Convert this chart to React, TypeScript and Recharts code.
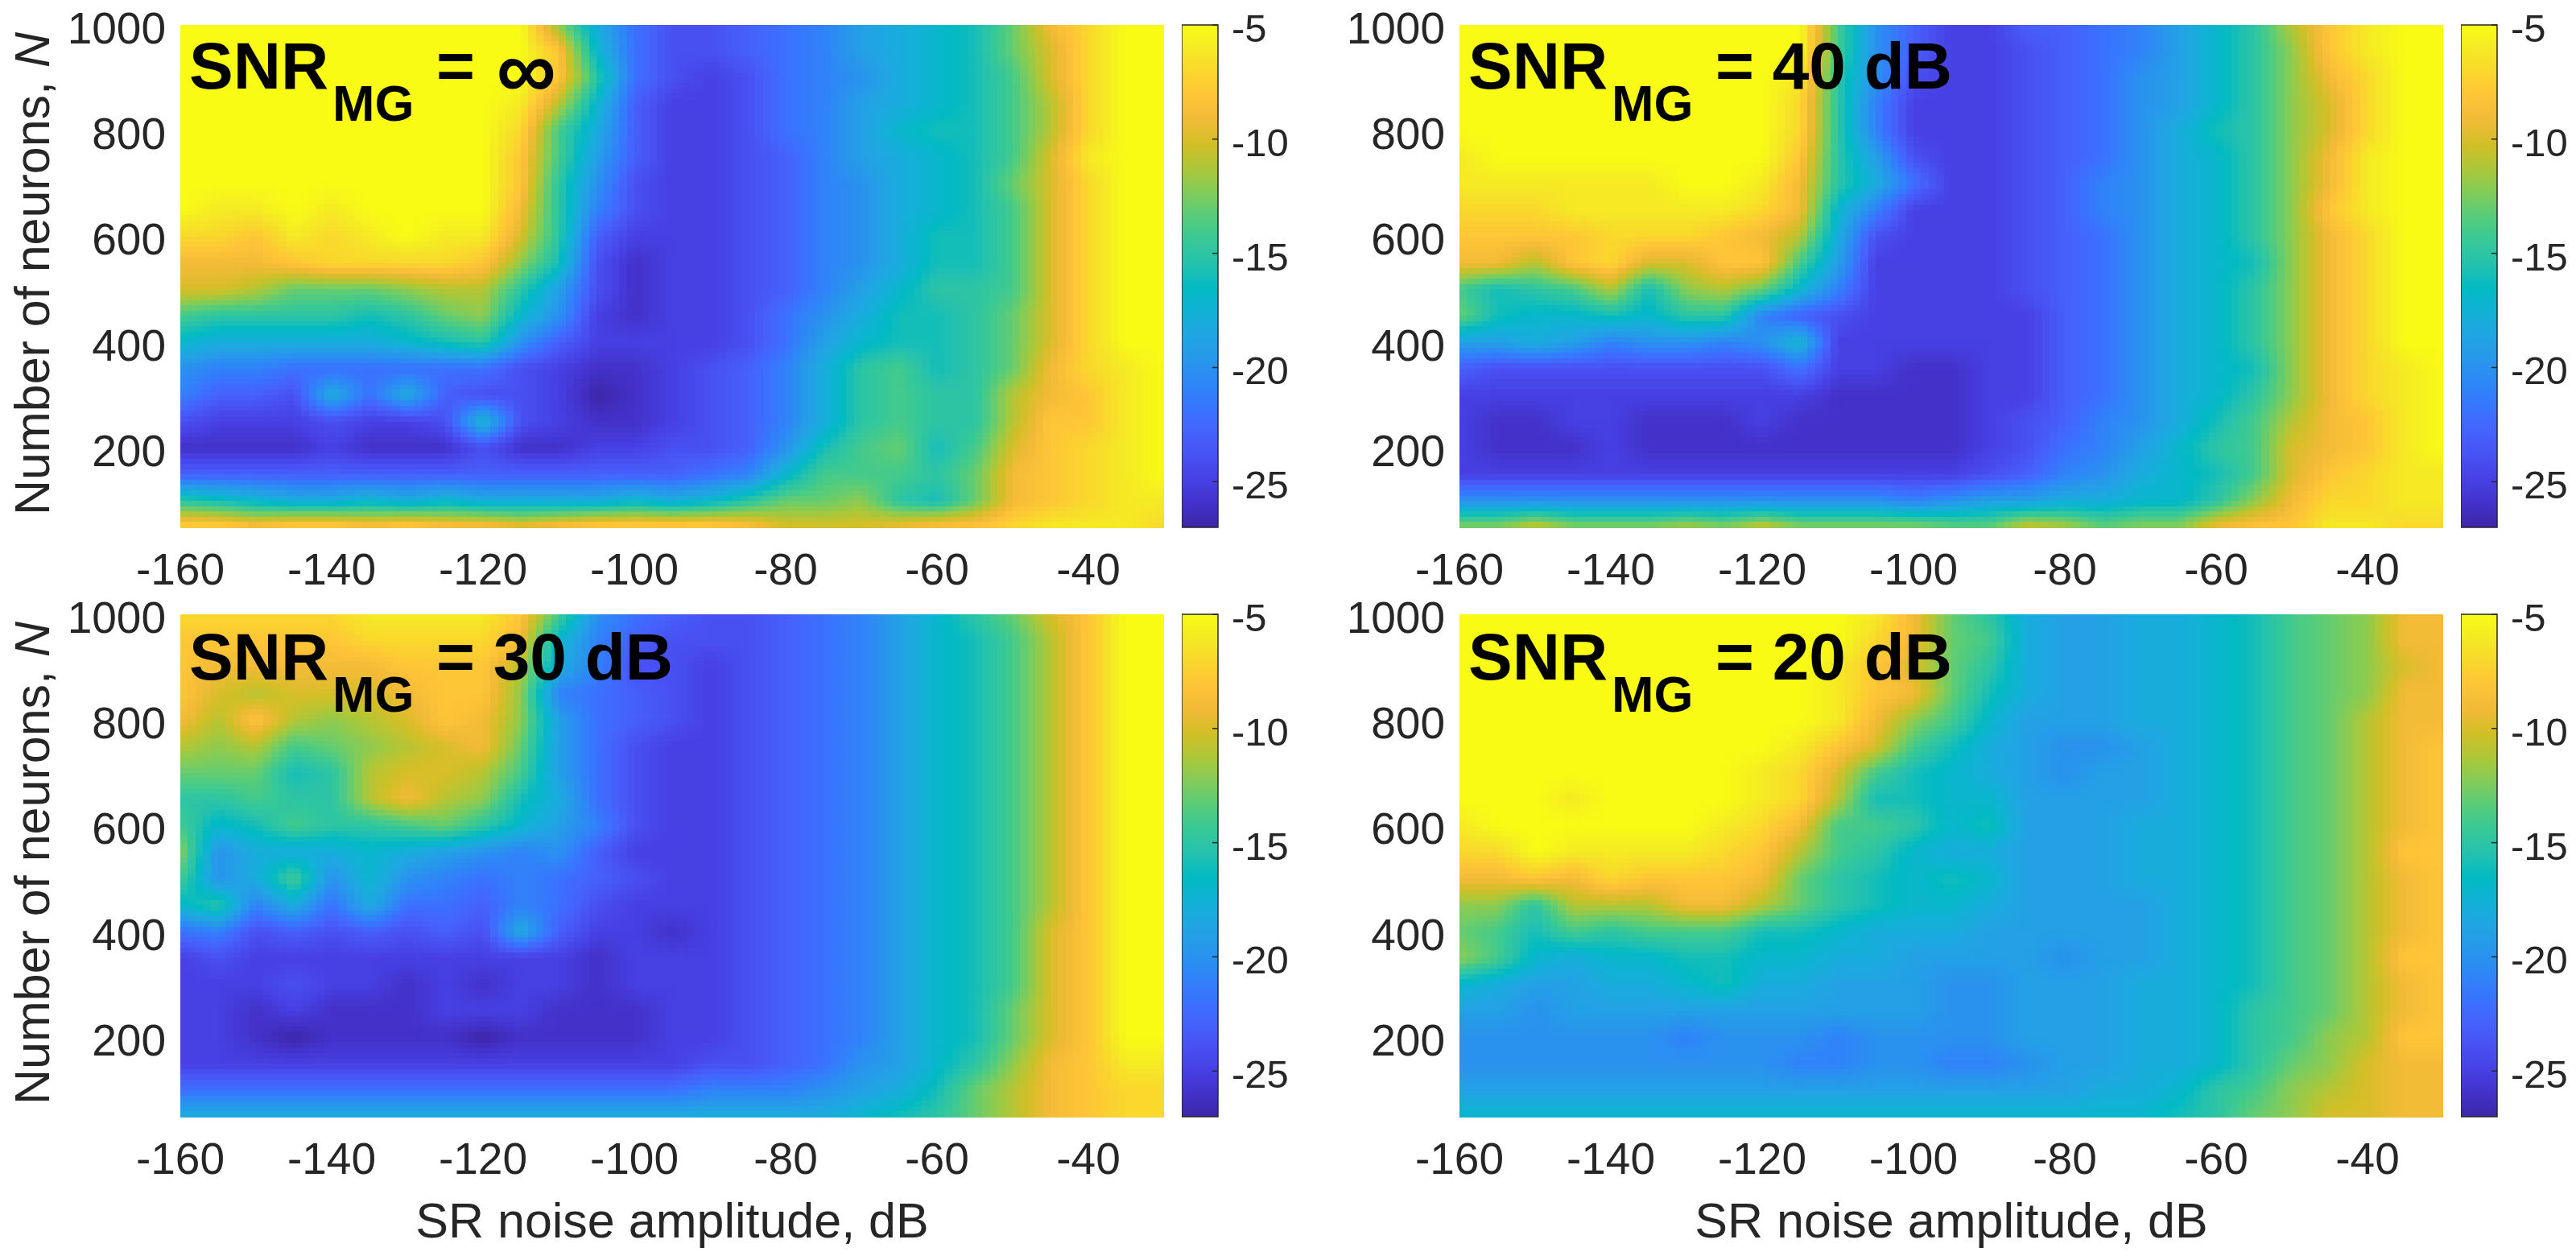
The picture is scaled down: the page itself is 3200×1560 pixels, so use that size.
import React from 'react';
import { ScatterChart, Scatter, XAxis, YAxis, ReferenceArea } from 'recharts';

// grid of the contour data: columns are SR noise in dB, rows are neuron counts from the top down
const noiseLevels = [-160, -155, -150, -145, -140, -135, -130, -125, -120, -115, -110, -105, -100, -95, -90, -85, -80, -75, -70, -65, -60, -55, -50, -45, -40, -35, -30];
const neuronCounts = [1000, 950, 900, 850, 800, 750, 700, 650, 600, 550, 500, 450, 400, 350, 300, 250, 200, 150, 100, 50];
const xTicks = [-160, -140, -120, -100, -80, -60, -40];
const yTicks = [200, 400, 600, 800, 1000];
const barTicks = [-5, -10, -15, -20, -25];
const barLimits = [{ x: 0, y: -27 }, { x: 1, y: -5 }];

const snrInfinity = [
  [-5,-5,-5,-5,-5,-5,-5,-5,-5,-5,-12,-18,-22,-24,-24,-23,-22,-21,-19,-18,-17,-16,-13,-9,-7,-5,-5],
  [-5,-5,-5,-5,-5,-5,-5,-5,-5,-5,-8,-17,-22,-24,-24,-23,-22,-21,-19,-18,-17,-16,-13,-10,-7,-5,-5],
  [-5,-5,-5,-5,-5,-5,-5,-5,-5,-5,-8,-15,-22,-24,-25,-24,-22,-21,-20,-18,-17,-16,-14,-10,-7,-5,-5],
  [-5,-5,-5,-5,-5,-5,-5,-5,-5,-6,-11,-17,-23,-25,-25,-24,-22,-21,-19,-18,-17,-16,-14,-11,-7,-5,-5],
  [-5,-5,-5,-5,-5,-5,-5,-5,-5,-7,-14,-18,-23,-25,-25,-24,-22,-21,-19,-17,-16,-16,-14,-11,-7,-5,-5],
  [-5,-5,-5,-5,-5,-5,-5,-5,-5,-8,-14,-19,-23,-25,-25,-24,-23,-21,-19,-18,-17,-16,-14,-10,-6,-5,-5],
  [-5,-5,-5,-5,-5,-5,-5,-5,-5,-8,-15,-20,-24,-25,-25,-24,-23,-21,-20,-18,-17,-16,-13,-10,-7,-5,-5],
  [-5,-6,-6,-5,-6,-5,-5,-5,-5,-9,-15,-21,-24,-25,-25,-24,-23,-21,-20,-18,-17,-16,-14,-10,-7,-5,-5],
  [-7,-7,-8,-6,-7,-6,-5,-6,-6,-10,-15,-23,-25,-25,-25,-24,-23,-21,-20,-18,-16,-16,-14,-10,-7,-5,-5],
  [-9,-9,-9,-8,-7,-7,-7,-7,-8,-12,-16,-24,-26,-25,-25,-24,-23,-21,-20,-18,-16,-16,-14,-10,-7,-5,-5],
  [-10,-10,-11,-13,-13,-13,-12,-11,-11,-15,-19,-24,-26,-25,-25,-24,-23,-21,-19,-17,-15,-15,-14,-10,-7,-5,-5],
  [-14,-15,-15,-15,-15,-16,-15,-13,-12,-17,-20,-25,-26,-25,-25,-24,-22,-20,-18,-16,-16,-15,-13,-10,-7,-5,-5],
  [-17,-18,-18,-18,-18,-18,-17,-16,-15,-20,-23,-25,-25,-25,-25,-24,-22,-19,-17,-16,-16,-15,-13,-10,-7,-5,-5],
  [-20,-21,-21,-22,-22,-22,-22,-22,-22,-24,-25,-26,-26,-25,-24,-23,-21,-18,-15,-14,-16,-15,-13,-9,-7,-6,-5],
  [-21,-23,-23,-24,-18,-22,-18,-23,-24,-24,-25,-27,-26,-25,-24,-23,-21,-18,-15,-14,-15,-15,-11,-9,-8,-6,-5],
  [-24,-25,-25,-25,-24,-25,-25,-24,-17,-24,-25,-26,-26,-25,-24,-23,-21,-18,-15,-14,-15,-15,-11,-8,-8,-6,-5],
  [-26,-26,-26,-26,-25,-26,-26,-26,-24,-26,-26,-25,-25,-24,-24,-23,-20,-16,-14,-13,-16,-14,-10,-8,-7,-6,-5],
  [-23,-23,-23,-23,-23,-23,-23,-23,-23,-23,-23,-23,-23,-23,-22,-21,-17,-14,-14,-14,-15,-13,-9,-8,-7,-6,-5],
  [-15,-16,-17,-18,-18,-17,-18,-17,-18,-18,-18,-18,-17,-18,-17,-15,-13,-13,-12,-15,-16,-13,-9,-8,-7,-6,-6],
  [-7,-7,-8,-7,-7,-8,-7,-8,-8,-9,-8,-7,-7,-7,-7,-8,-10,-10,-10,-9,-8,-8,-7,-6,-6,-6,-7],
];

const snr40 = [
  [-5,-5,-5,-5,-5,-5,-5,-5,-5,-5,-14,-20,-23,-25,-25,-23,-23,-22,-21,-19,-17,-15,-11,-8,-6,-5,-5],
  [-5,-5,-5,-5,-5,-5,-5,-5,-5,-5,-14,-20,-23,-25,-25,-24,-23,-22,-21,-19,-17,-15,-12,-8,-6,-5,-5],
  [-5,-5,-5,-5,-5,-5,-5,-5,-5,-6,-15,-20,-24,-25,-25,-24,-23,-22,-20,-19,-17,-15,-12,-9,-7,-5,-5],
  [-5,-5,-5,-5,-5,-5,-5,-5,-5,-7,-15,-21,-25,-25,-25,-24,-23,-22,-20,-19,-17,-15,-12,-10,-7,-5,-5],
  [-5,-5,-5,-5,-5,-5,-5,-5,-5,-7,-15,-21,-25,-25,-25,-24,-23,-22,-20,-18,-16,-15,-12,-10,-7,-5,-5],
  [-6,-5,-5,-5,-5,-5,-5,-5,-5,-8,-15,-19,-24,-25,-25,-24,-23,-22,-20,-18,-17,-15,-12,-9,-6,-5,-5],
  [-6,-6,-6,-6,-6,-6,-5,-5,-6,-9,-15,-18,-22,-25,-25,-24,-23,-21,-20,-18,-17,-15,-12,-9,-6,-5,-5],
  [-7,-7,-7,-6,-6,-6,-6,-6,-7,-9,-17,-21,-25,-25,-25,-24,-23,-21,-20,-18,-17,-15,-12,-8,-6,-5,-5],
  [-8,-8,-8,-8,-7,-7,-7,-8,-9,-11,-18,-24,-25,-25,-25,-24,-23,-22,-20,-18,-17,-15,-12,-9,-7,-5,-5],
  [-9,-9,-11,-8,-7,-10,-10,-8,-8,-14,-19,-25,-25,-25,-25,-24,-23,-22,-20,-18,-17,-16,-12,-9,-7,-5,-5],
  [-14,-16,-15,-14,-11,-16,-12,-11,-13,-17,-21,-25,-25,-25,-25,-24,-23,-22,-20,-18,-17,-15,-12,-9,-7,-5,-5],
  [-13,-16,-17,-17,-16,-17,-15,-15,-21,-23,-24,-25,-25,-25,-25,-25,-23,-22,-20,-18,-17,-15,-12,-9,-7,-5,-5],
  [-19,-19,-18,-19,-21,-20,-20,-21,-20,-17,-25,-25,-25,-25,-25,-25,-23,-22,-20,-18,-17,-15,-12,-9,-7,-5,-5],
  [-23,-24,-24,-24,-24,-24,-24,-24,-24,-22,-25,-25,-26,-26,-25,-25,-23,-22,-20,-18,-17,-16,-12,-9,-7,-6,-5],
  [-25,-25,-25,-25,-25,-25,-25,-25,-25,-25,-26,-26,-26,-26,-25,-25,-23,-22,-20,-18,-17,-15,-12,-9,-7,-6,-5],
  [-25,-26,-26,-25,-25,-26,-26,-26,-25,-26,-26,-26,-26,-26,-25,-24,-23,-21,-20,-18,-16,-14,-11,-9,-8,-6,-5],
  [-25,-26,-26,-26,-25,-26,-26,-26,-26,-26,-26,-26,-26,-26,-25,-24,-22,-21,-19,-17,-15,-14,-10,-9,-8,-6,-5],
  [-25,-25,-25,-25,-25,-25,-25,-25,-25,-25,-25,-25,-25,-25,-24,-23,-21,-20,-18,-17,-16,-14,-10,-8,-7,-6,-6],
  [-20,-20,-20,-20,-20,-20,-20,-20,-20,-20,-20,-20,-21,-20,-19,-19,-18,-18,-17,-17,-15,-12,-9,-7,-7,-6,-6],
  [-12,-12,-10,-12,-12,-12,-11,-12,-10,-12,-12,-12,-12,-13,-13,-10,-11,-13,-12,-12,-9,-8,-8,-6,-6,-7,-7],
];

const snr30 = [
  [-7,-7,-7,-7,-7,-6,-6,-6,-6,-8,-14,-20,-22,-23,-24,-24,-23,-22,-21,-19,-17,-15,-13,-10,-8,-5,-5],
  [-8,-8,-8,-8,-8,-7,-7,-7,-7,-9,-17,-21,-23,-24,-24,-24,-23,-22,-21,-19,-17,-16,-14,-11,-8,-5,-5],
  [-8,-9,-9,-9,-9,-9,-8,-8,-8,-11,-18,-21,-24,-24,-25,-24,-23,-22,-21,-19,-17,-16,-14,-11,-8,-5,-5],
  [-8,-10,-11,-10,-10,-10,-9,-8,-8,-12,-21,-22,-23,-24,-25,-24,-23,-22,-21,-19,-17,-16,-14,-11,-8,-5,-5],
  [-9,-11,-8,-11,-12,-11,-10,-8,-9,-12,-19,-22,-23,-24,-25,-24,-23,-22,-21,-19,-17,-16,-14,-11,-8,-5,-5],
  [-11,-12,-11,-14,-13,-12,-11,-10,-9,-13,-19,-22,-24,-25,-25,-24,-23,-22,-21,-19,-17,-16,-14,-11,-8,-5,-5],
  [-13,-13,-13,-16,-15,-11,-10,-10,-11,-14,-19,-22,-24,-25,-25,-24,-23,-22,-21,-19,-17,-16,-14,-11,-8,-5,-5],
  [-15,-15,-14,-15,-15,-11,-9,-11,-12,-16,-18,-22,-24,-25,-25,-24,-23,-22,-21,-19,-17,-16,-14,-11,-8,-5,-5],
  [-14,-17,-16,-14,-15,-15,-14,-13,-15,-17,-19,-21,-24,-25,-25,-24,-23,-22,-21,-19,-17,-16,-14,-11,-8,-5,-5],
  [-12,-20,-18,-18,-18,-17,-18,-19,-20,-21,-20,-23,-25,-25,-25,-24,-23,-22,-21,-19,-17,-16,-14,-11,-8,-5,-5],
  [-14,-20,-18,-14,-20,-17,-20,-21,-22,-21,-22,-23,-24,-25,-25,-24,-23,-22,-21,-19,-17,-16,-14,-11,-8,-5,-5],
  [-17,-15,-21,-18,-22,-18,-22,-22,-23,-21,-22,-24,-25,-25,-25,-24,-23,-22,-21,-19,-17,-16,-14,-11,-8,-5,-5],
  [-22,-21,-24,-23,-24,-23,-24,-23,-24,-18,-23,-25,-25,-26,-25,-24,-23,-22,-21,-19,-17,-16,-14,-10,-8,-5,-5],
  [-25,-24,-25,-25,-25,-25,-25,-25,-25,-25,-25,-26,-25,-25,-25,-24,-23,-22,-21,-19,-17,-16,-14,-10,-8,-5,-5],
  [-25,-25,-25,-24,-25,-25,-26,-25,-26,-25,-25,-26,-25,-25,-25,-24,-23,-22,-21,-19,-17,-16,-14,-10,-8,-5,-5],
  [-25,-25,-26,-25,-26,-26,-26,-25,-25,-25,-26,-26,-26,-25,-25,-24,-23,-22,-21,-19,-17,-16,-13,-10,-8,-5,-5],
  [-25,-25,-26,-27,-26,-26,-26,-26,-27,-26,-26,-26,-26,-25,-25,-24,-23,-22,-21,-19,-17,-16,-13,-10,-8,-5,-5],
  [-25,-25,-25,-25,-25,-25,-25,-25,-25,-25,-25,-25,-25,-25,-24,-24,-23,-22,-20,-19,-17,-15,-12,-9,-8,-6,-6],
  [-22,-22,-22,-22,-22,-22,-22,-22,-22,-22,-22,-22,-22,-22,-21,-21,-21,-20,-19,-18,-16,-13,-11,-9,-8,-7,-7],
  [-18,-18,-18,-18,-18,-18,-18,-18,-18,-18,-18,-18,-18,-18,-18,-18,-18,-18,-17,-16,-15,-13,-11,-9,-8,-7,-7],
];

const snr20 = [
  [-5,-5,-5,-5,-5,-5,-5,-5,-5,-5,-5,-6,-9,-13,-15,-18,-19,-19,-18,-18,-17,-16,-14,-13,-12,-9,-9],
  [-5,-5,-5,-5,-5,-5,-5,-5,-5,-5,-5,-7,-9,-13,-14,-18,-19,-19,-18,-18,-17,-16,-14,-13,-12,-9,-9],
  [-5,-5,-5,-5,-5,-5,-5,-5,-5,-5,-6,-8,-10,-13,-15,-18,-19,-19,-18,-18,-17,-16,-14,-13,-12,-10,-9],
  [-5,-5,-5,-5,-5,-5,-5,-5,-5,-5,-6,-8,-9,-13,-16,-18,-19,-19,-18,-18,-17,-16,-14,-13,-12,-9,-9],
  [-5,-5,-5,-5,-5,-5,-5,-5,-5,-5,-6,-9,-12,-14,-17,-19,-19,-19,-18,-18,-17,-16,-14,-13,-11,-9,-9],
  [-5,-5,-5,-5,-5,-5,-5,-5,-5,-6,-8,-10,-14,-16,-18,-19,-20,-20,-19,-18,-17,-16,-14,-13,-11,-9,-8],
  [-5,-5,-5,-5,-5,-5,-5,-5,-6,-7,-10,-14,-16,-17,-18,-19,-20,-19,-19,-18,-17,-16,-14,-13,-11,-9,-8],
  [-5,-5,-5,-6,-5,-5,-5,-5,-6,-7,-11,-16,-16,-17,-17,-19,-19,-19,-19,-18,-17,-16,-14,-13,-11,-9,-8],
  [-6,-5,-5,-5,-5,-5,-5,-6,-7,-9,-14,-14,-15,-17,-16,-19,-19,-19,-18,-18,-17,-16,-14,-13,-11,-9,-8],
  [-7,-7,-5,-6,-6,-6,-6,-7,-8,-11,-14,-15,-17,-18,-18,-19,-19,-19,-18,-18,-17,-16,-14,-13,-11,-8,-8],
  [-9,-9,-8,-9,-7,-8,-8,-8,-9,-13,-15,-16,-17,-16,-17,-19,-19,-19,-18,-18,-17,-16,-14,-13,-11,-9,-8],
  [-12,-12,-15,-11,-11,-11,-9,-9,-11,-13,-15,-16,-17,-17,-18,-19,-19,-19,-19,-18,-17,-16,-14,-13,-11,-9,-8],
  [-13,-14,-16,-14,-15,-14,-14,-14,-16,-16,-17,-18,-18,-18,-19,-19,-19,-19,-19,-18,-17,-16,-14,-13,-11,-9,-8],
  [-12,-14,-17,-18,-17,-17,-16,-16,-17,-17,-18,-18,-19,-19,-19,-19,-20,-19,-19,-18,-17,-16,-14,-13,-11,-8,-8],
  [-17,-18,-19,-19,-18,-18,-17,-16,-18,-18,-19,-19,-19,-20,-20,-19,-19,-19,-18,-18,-17,-16,-14,-13,-11,-9,-8],
  [-19,-19,-20,-19,-19,-19,-19,-19,-19,-19,-19,-19,-19,-20,-20,-19,-19,-19,-18,-18,-17,-15,-14,-13,-11,-9,-8],
  [-20,-20,-20,-20,-20,-20,-21,-20,-20,-20,-21,-20,-20,-20,-20,-19,-19,-19,-18,-18,-17,-15,-14,-12,-11,-8,-8],
  [-20,-20,-20,-20,-20,-20,-20,-20,-20,-21,-21,-20,-20,-21,-21,-20,-19,-19,-18,-18,-17,-15,-13,-12,-10,-9,-9],
  [-19,-19,-19,-19,-19,-19,-19,-19,-19,-19,-19,-19,-19,-19,-19,-19,-19,-18,-18,-17,-15,-14,-12,-11,-10,-9,-9],
  [-17,-17,-17,-17,-17,-17,-17,-17,-17,-17,-17,-17,-17,-17,-17,-17,-17,-17,-17,-16,-15,-13,-12,-10,-10,-9,-9],
];

// parula, sampled every third entry, low to high
const parula = [
  [62, 38, 168], [67, 50, 203], [71, 65, 229], [72, 82, 244], [69, 99, 253], [56, 117, 254],
  [46, 135, 247], [39, 151, 235], [32, 165, 227], [18, 177, 214], [2, 186, 195], [36, 193, 174],
  [55, 200, 151], [87, 204, 122], [129, 204, 89], [171, 199, 57], [209, 191, 39], [240, 186, 54],
  [254, 195, 56], [250, 214, 45], [245, 233, 36], [249, 251, 21],
];

const MIN_DB = -27;
const MAX_DB = -5;
const PLOT_W = 1222;
const PLOT_H = 624;
const CELL_W = (PLOT_W * 5) / 130;
const CELL_H = (PLOT_H * 50) / 950;
const SUB = 5; // shading steps per grid cell
const INK = '#262626';
const FONT = '"Liberation Sans", Arial, sans-serif';
const TICK_SIZE = 55;
const BAR_TICK_SIZE = 49;
const TITLE_SIZE = 61;

function colorFor(v: number) {
  const t = Math.min(1, Math.max(0, (v - MIN_DB) / (MAX_DB - MIN_DB))) * (parula.length - 1);
  const i = Math.min(parula.length - 2, Math.floor(t));
  const f = t - i;
  const c = parula[i].map((a, k) => Math.round(a + (parula[i + 1][k] - a) * f));
  return `rgb(${c[0]},${c[1]},${c[2]})`;
}

// one grid node shades the cell between it and its right and lower neighbours
function GridCell(props: any) {
  const { cx, cy, payload } = props;
  const { row, col, grid } = payload;
  if (row >= grid.length - 1 || col >= grid[0].length - 1) return null;
  const a = grid[row][col];
  const b = grid[row][col + 1];
  const c = grid[row + 1][col];
  const d = grid[row + 1][col + 1];
  const rects = [];
  for (let i = 0; i < SUB; i++) {
    for (let j = 0; j < SUB; j++) {
      const u = (i + 0.5) / SUB;
      const v = (j + 0.5) / SUB;
      const value = a * (1 - u) * (1 - v) + b * u * (1 - v) + c * (1 - u) * v + d * u * v;
      rects.push(
        <rect
          key={`${i}-${j}`}
          x={cx + (i * CELL_W) / SUB}
          y={cy + (j * CELL_H) / SUB}
          width={CELL_W / SUB + 0.7}
          height={CELL_H / SUB + 0.7}
          fill={colorFor(value)}
        />
      );
    }
  }
  return <g shapeRendering="crispEdges">{rects}</g>;
}

function BarTick(props: any) {
  const { x, y, payload } = props;
  return (
    <g>
      <line x1={x - 15} x2={x - 8} y1={y} y2={y} stroke={INK} strokeWidth={1.5} />
      <text x={x + 9} y={y + 21} fontSize={BAR_TICK_SIZE} fontFamily={FONT} fill={INK}>
        {payload.value}
      </text>
    </g>
  );
}

interface PanelProps {
  id: string;
  grid: number[][];
  left: number;
  top: number;
  axisWidth: number;
  height: number;
  label: React.ReactNode;
  labelShift?: number;
  yTitle?: boolean;
  xTitle?: boolean;
}

function Panel({ id, grid, left, top, axisWidth, height, label, labelShift = 0, yTitle, xTitle }: PanelProps) {
  const table = grid.flatMap((values, row) =>
    values.map((db, col) => ({ x: noiseLevels[col], y: neuronCounts[row], db, row, col, grid }))
  );
  const plotMid = axisWidth + PLOT_W / 2;
  const barLeft = left + axisWidth + PLOT_W + 22;
  return (
    <>
      <div style={{ position: 'absolute', left, top }}>
        <ScatterChart width={axisWidth + PLOT_W} height={height} margin={{ top: 31, right: 0, bottom: 0, left: 0 }}>
          <XAxis
            type="number"
            dataKey="x"
            domain={[-160, -30]}
            ticks={xTicks}
            height={height - 31 - PLOT_H}
            axisLine={false}
            tickLine={false}
            tickMargin={26}
            interval={0}
            tick={{ fontSize: TICK_SIZE, fill: INK, fontFamily: FONT }}
          />
          <YAxis
            type="number"
            dataKey="y"
            domain={[50, 1000]}
            ticks={yTicks}
            width={axisWidth}
            axisLine={false}
            tickLine={false}
            tickMargin={12}
            interval={0}
            tick={{ fontSize: TICK_SIZE, fill: INK, fontFamily: FONT, dy: 3 }}
          />
          <Scatter data={table} shape={GridCell} isAnimationActive={false} />
        </ScatterChart>
      </div>
      <svg
        width={axisWidth + PLOT_W}
        height={height}
        style={{ position: 'absolute', left, top, pointerEvents: 'none' }}
      >
        <g fontFamily={FONT} fontWeight="bold" fill="#000">
          <text x={axisWidth + 11} y={110 + labelShift} fontSize={82}>SNR</text>
          <text x={axisWidth + 189} y={150 + labelShift} fontSize={63}>MG</text>
          <text x={axisWidth + 318} y={110 + labelShift} fontSize={82}>{label}</text>
        </g>
        {yTitle && (
          <text
            transform={`translate(61, ${31 + PLOT_H / 2 - 3}) rotate(-90)`}
            textAnchor="middle"
            fontSize={TITLE_SIZE}
            fontFamily={FONT}
            fill={INK}
          >
            Number of neurons, <tspan fontStyle="italic">N</tspan>
          </text>
        )}
        {xTitle && (
          <text x={plotMid} y={805} textAnchor="middle" fontSize={TITLE_SIZE} fontFamily={FONT} fill={INK}>
            SR noise amplitude, dB
          </text>
        )}
      </svg>
      <div style={{ position: 'absolute', left: barLeft, top }}>
        <ScatterChart width={150} height={31 + PLOT_H + 10} margin={{ top: 31, right: 0, bottom: 10, left: 0 }}>
          <defs>
            <linearGradient id={`parula-${id}`} x1="0" y1="1" x2="0" y2="0">
              {parula.map((c, i) => (
                <stop key={i} offset={i / (parula.length - 1)} stopColor={`rgb(${c[0]},${c[1]},${c[2]})`} />
              ))}
            </linearGradient>
          </defs>
          <XAxis type="number" dataKey="x" domain={[0, 1]} hide height={0} />
          <YAxis
            type="number"
            dataKey="y"
            orientation="right"
            domain={[MIN_DB, MAX_DB]}
            ticks={barTicks}
            width={105}
            axisLine={false}
            tickLine={false}
            interval={0}
            tick={BarTick}
          />
          <Scatter data={barLimits} shape={() => null} isAnimationActive={false} />
          <ReferenceArea
            x1={0}
            x2={1}
            y1={MIN_DB}
            y2={MAX_DB}
            fill={`url(#parula-${id})`}
            fillOpacity={1}
            stroke={INK}
            strokeWidth={1.5}
            ifOverflow="visible"
          />
        </ScatterChart>
      </div>
    </>
  );
}

export default function App() {
  const infinity = (
    <>
      = <tspan fontSize={104} dx={4} dy={12}>∞</tspan>
    </>
  );
  return (
    <div style={{ position: 'absolute', left: 0, top: 0, width: 3200, height: 1560, background: '#fff', overflow: 'hidden' }}>
      <Panel id="inf" grid={snrInfinity} left={0} top={0} axisWidth={224} height={750} label={infinity} yTitle />
      <Panel id="db40" grid={snr40} left={1600} top={0} axisWidth={213} height={750} label="= 40 dB" />
      <Panel id="db30" grid={snr30} left={0} top={732} axisWidth={224} height={828} label="= 30 dB" labelShift={2} yTitle xTitle />
      <Panel id="db20" grid={snr20} left={1600} top={732} axisWidth={213} height={828} label="= 20 dB" labelShift={2} xTitle />
    </div>
  );
}
